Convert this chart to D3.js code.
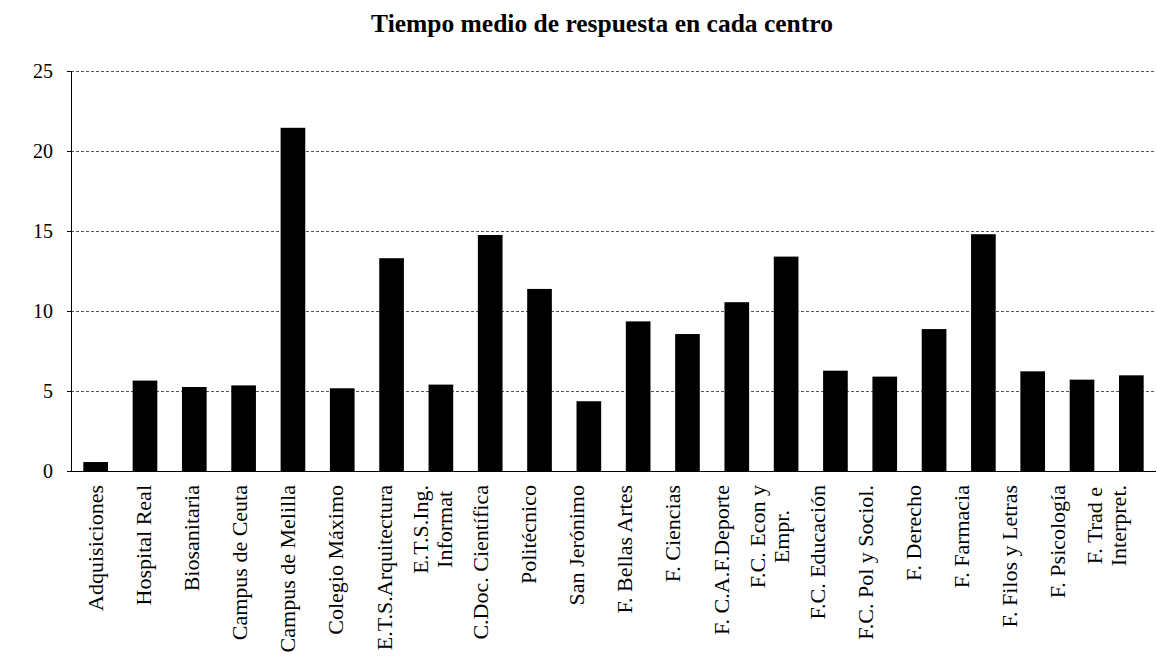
<!DOCTYPE html>
<html>
<head>
<meta charset="utf-8">
<script src="https://cdn.jsdelivr.net/npm/d3@7"></script>
<style>
  html, body { margin: 0; padding: 0; background: #fff; }
  svg { display: block; }
  text { font-family: "Liberation Serif", "Times New Roman", "DejaVu Serif", serif; fill: #000; }
</style>
</head>
<body>
<script>
const title = "Tiempo medio de respuesta en cada centro";
const categories = [
  "Adquisiciones", "Hospital Real", "Biosanitaria", "Campus de Ceuta", "Campus de Melilla",
  "Colegio Máximo", "E.T.S.Arquitectura", "E.T.S.Ing.\nInformat", "C.Doc. Científica", "Politécnico",
  "San Jerónimo", "F. Bellas Artes", "F. Ciencias", "F. C.A.F.Deporte", "F.C. Econ y\nEmpr.",
  "F.C. Educación", "F.C. Pol y Sociol.", "F. Derecho", "F. Farmacia", "F. Filos y Letras",
  "F. Psicología", "F. Trad e\nInterpret."
];
const values = [
  0.56, 5.65, 5.25, 5.35, 21.45,
  5.17, 13.3, 5.4, 14.75, 11.38,
  4.36, 9.35, 8.56, 10.55, 13.4,
  6.27, 5.9, 8.87, 14.8, 6.23,
  5.71, 5.98
];
const yTicks = [0, 5, 10, 15, 20, 25];

const W = 1157, H = 663;
const mLeft = 71, mRight = 1156, mTop = 71, mBottom = 471;

const svg = d3.select("body").append("svg").attr("width", W).attr("height", H);

const x = d3.scaleBand().domain(categories).range([mLeft, mRight]).paddingInner(0.5).paddingOuter(0.25);
const xLabel = d3.scaleBand().domain(categories).range([mLeft, 1130]);
const y = d3.scaleLinear().domain([0, 25]).range([mBottom, mTop]);

// title
svg.append("text")
  .attr("x", 602).attr("y", 32)
  .attr("text-anchor", "middle")
  .style("font-size", "25.5px").style("font-weight", "bold")
  .text(title);

// gridlines
svg.append("g").selectAll("line")
  .data(yTicks.filter(d => d > 0))
  .join("line")
  .attr("x1", mLeft).attr("x2", mRight)
  .attr("y1", d => y(d) + 0.5).attr("y2", d => y(d) + 0.5)
  .attr("stroke", "#555").attr("stroke-width", 1)
  .attr("stroke-dasharray", "3,2");

// bars
svg.append("g").selectAll("rect")
  .data(values)
  .join("rect")
  .attr("x", (d, i) => x(categories[i]))
  .attr("width", x.bandwidth())
  .attr("y", d => y(d))
  .attr("height", d => y(0) - y(d))
  .attr("fill", "#000");

// y axis
const yAxis = svg.append("g")
  .attr("transform", `translate(${mLeft},0)`)
  .call(d3.axisLeft(y).tickValues(yTicks).tickSize(4).tickPadding(14).tickFormat(d3.format("d")));
yAxis.attr("font-family", null);
yAxis.select(".domain").attr("stroke", "#000");
yAxis.selectAll(".tick line").attr("stroke", "#000");
yAxis.selectAll(".tick text").style("font-size", "20px");

// x baseline
svg.append("line")
  .attr("x1", mLeft).attr("x2", mRight)
  .attr("y1", y(0) + 0.5).attr("y2", y(0) + 0.5)
  .attr("stroke", "#000").attr("stroke-width", 1.2);

// x labels (rotated)
const fs = 22;
const lg = svg.append("g").selectAll("g")
  .data(categories)
  .join("g")
  .attr("transform", d => `translate(${xLabel(d) + xLabel.bandwidth() / 2},${mBottom + 14}) rotate(-90)`);

lg.each(function(d) {
  const g = d3.select(this);
  const lines = d.split("\n");
  const t = g.append("text").style("font-size", fs + "px");
  const spans = lines.map(ln => t.append("tspan").text(ln));
  const lens = spans.map(s => s.node().getComputedTextLength());
  const maxLen = d3.max(lens);
  const n = lines.length;
  spans.forEach((s, k) => {
    s.attr("x", -maxLen / 2)
     .attr("y", (k - (n - 1) / 2) * fs * 1.1)
     .attr("dy", "0.35em")
     .attr("text-anchor", "middle");
  });
});
</script>
</body>
</html>
